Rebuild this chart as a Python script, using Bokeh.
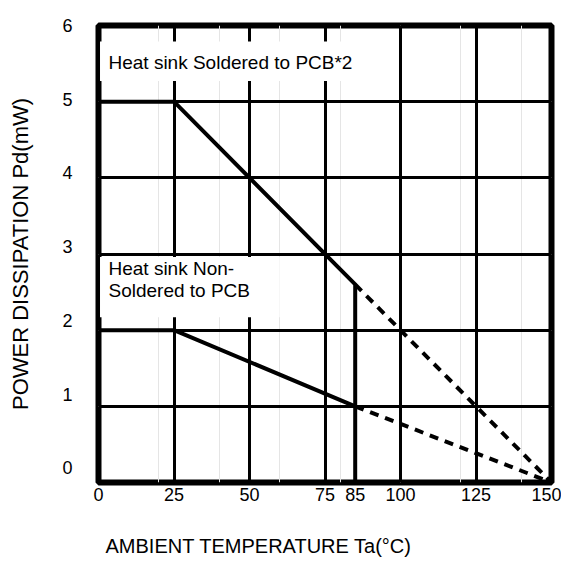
from bokeh.plotting import figure
from bokeh.models import (Range1d, LinearAxis, FixedTicker, BoxAnnotation,
                          Label, Title, Grid)
from bokeh.embed import file_html
from bokeh.resources import INLINE

# ---- data ----
x_ticks = [0, 25, 50, 75, 85, 100, 125, 150]
y_ticks = [0, 1, 2, 3, 4, 5, 6]
x_grid = [25, 50, 75, 100, 125]
y_grid = [1, 2, 3, 4, 5]

soldered_x = [0, 25, 85, 85]
soldered_y = [5, 5, 2.6, 0]
soldered_ext_x = [85, 150]
soldered_ext_y = [2.6, 0]

nonsold_x = [0, 25, 85]
nonsold_y = [2, 2, 1]
nonsold_ext_x = [85, 150]
nonsold_ext_y = [1, 0]

FONT = "Liberation Sans"

p = figure(width=561, height=568, x_range=Range1d(0, 150), y_range=Range1d(0, 6),
           output_backend="svg", toolbar_location=None,
           x_axis_location=None, y_axis_location=None,
           min_border_left=98, min_border_right=10, min_border_top=25,
           min_border_bottom=86)
p.background_fill_color = "white"
p.border_fill_color = "white"
p.outline_line_color = "black"
p.outline_line_width = 6

# grids
p.add_layout(Grid(dimension=0, ticker=FixedTicker(ticks=x_grid),
                  grid_line_color="black", grid_line_width=3))
p.add_layout(Grid(dimension=1, ticker=FixedTicker(ticks=y_grid),
                  grid_line_color="black", grid_line_width=3))

# x axis
xa = LinearAxis(ticker=FixedTicker(ticks=x_ticks))
xa.axis_line_color = None
xa.major_tick_line_color = None
xa.minor_tick_line_color = None
xa.major_tick_out = 0
xa.major_tick_in = 0
xa.major_label_standoff = 5
xa.major_label_text_font = FONT
xa.major_label_text_font_size = "18px"
xa.major_label_text_color = "black"
p.add_layout(xa, "below")

# y axis (labels sit slightly above their grid lines in the original)
p.extra_y_ranges = {"lab": Range1d(-0.2, 6.0001)}
ya = LinearAxis(y_range_name="lab", ticker=FixedTicker(ticks=y_ticks))
ya.axis_line_color = None
ya.major_tick_line_color = None
ya.minor_tick_line_color = None
ya.major_tick_out = 0
ya.major_tick_in = 0
ya.major_label_standoff = 26
ya.major_label_text_font = FONT
ya.major_label_text_font_size = "18px"
ya.major_label_text_color = "black"
ya.axis_label = "POWER DISSIPATION Pd(mW)"
ya.axis_label_standoff = 26
ya.axis_label_text_font = FONT
ya.axis_label_text_font_size = "22px"
ya.axis_label_text_font_style = "normal"
ya.axis_label_text_color = "black"
p.add_layout(ya, "left")

# x axis title (left of centre, as in the original)
t = Title(text="\nAMBIENT TEMPERATURE Ta(°C)", align="left", offset=7,
          standoff=14, text_font=FONT, text_font_size="20px",
          text_font_style="normal", text_color="black")
p.add_layout(t, "below")

# curves
p.line(soldered_x, soldered_y, line_color="black", line_width=4)
p.line(soldered_ext_x, soldered_ext_y, line_color="black", line_width=4,
       line_dash="9 7")
p.line(nonsold_x, nonsold_y, line_color="black", line_width=4)
p.line(nonsold_ext_x, nonsold_ext_y, line_color="black", line_width=4,
       line_dash="9 7")

# label backgrounds
p.add_layout(BoxAnnotation(left=0.5, right=84, bottom=5.27, top=5.79,
                           fill_color="white", fill_alpha=1, line_color=None))
p.add_layout(BoxAnnotation(left=0.5, right=60, bottom=2.17, top=2.96,
                           fill_color="white", fill_alpha=1, line_color=None))

for txt, yy in [("Heat sink Soldered to PCB*2", 5.51),
                ("Heat sink Non-", 2.81),
                ("Soldered to PCB", 2.52)]:
    p.add_layout(Label(x=3.3, y=yy, text=txt, text_baseline="middle",
                       text_align="left", text_font=FONT,
                       text_font_size="19px", text_color="black"))

open("out.html", "w").write(file_html(p, INLINE))
